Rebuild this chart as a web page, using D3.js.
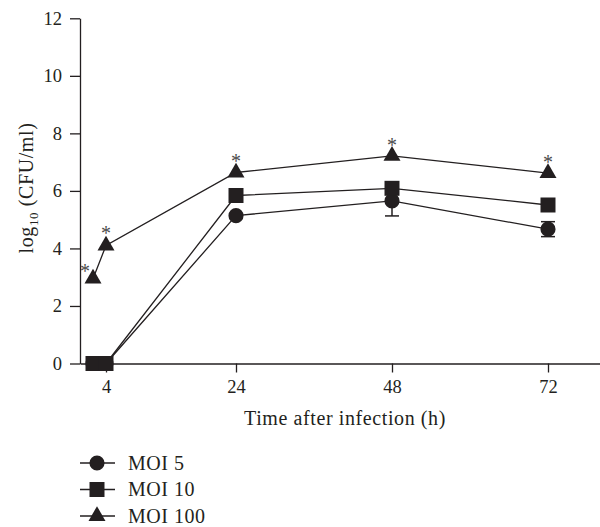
<!DOCTYPE html>
<html>
<head>
<meta charset="utf-8">
<script src="https://cdn.jsdelivr.net/npm/d3@7"></script>
<style>
  body { margin: 0; background: #fff; }
  svg { font-family: "Liberation Serif", "DejaVu Serif", serif; }
</style>
</head>
<body>
<div id="chart"></div>
<script>
// data
const hours = [2, 4, 24, 48, 72];
const xTicks = [4, 24, 48, 72];
const yTicks = [0, 2, 4, 6, 8, 10, 12];
const seriesNames = ['MOI 5', 'MOI 10', 'MOI 100'];
const moi5 = [0, 0, 5.14, 5.65, 4.67];
const moi5Err = [0, 0, 0.05, 0.52, 0.26];
const moi10 = [0, 0, 5.84, 6.09, 5.51];
const moi10Err = [0, 0, 0.05, 0.1, 0.06];
const moi100 = [2.95, 4.1, 6.64, 7.22, 6.62];
const moi100Err = [0, 0, 0, 0, 0];
const moi100Star = [true, true, true, true, true];

var width = 600, height = 527;
var ink = '#231f20';

var svg = d3.select('#chart').append('svg')
  .attr('width', width)
  .attr('height', height);

var x = d3.scaleLinear().domain([0, 80]).range([80, 600]);
var y = d3.scaleLinear().domain([0, 12]).range([363.5, 18.3]);

// axes
var yAxis = svg.append('g')
  .attr('transform', 'translate(80,0)')
  .call(d3.axisLeft(y).tickValues(yTicks).tickSize(10).tickPadding(8).tickSizeOuter(0));
var xAxis = svg.append('g')
  .attr('transform', 'translate(0,' + y(0) + ')')
  .call(d3.axisBottom(x).tickValues(xTicks).tickSize(9).tickPadding(7).tickSizeOuter(0));

[xAxis, yAxis].forEach(function(g) {
  g.selectAll('path, line').attr('stroke', ink).attr('stroke-width', 1.3);
  g.selectAll('text').attr('fill', ink).style('font-size', '18.5px').style('font-family', 'Liberation Serif');
});

// axis titles
svg.append('text')
  .attr('x', 345).attr('y', 425)
  .attr('text-anchor', 'middle')
  .attr('fill', ink)
  .style('font-size', '20px')
  .style('letter-spacing', '0.6px')
  .text('Time after infection (h)');

var yl = svg.append('text')
  .attr('transform', 'translate(33,188) rotate(-90)')
  .attr('text-anchor', 'middle')
  .attr('fill', ink)
  .style('font-size', '20px')
  .style('letter-spacing', '0.6px');
yl.append('tspan').text('log');
yl.append('tspan').attr('dy', 5).style('font-size', '13px').text('10');
yl.append('tspan').attr('dy', -5).text(' (CFU/ml)');

var series = [
  { name: seriesNames[0], vals: moi5, err: moi5Err, sym: d3.symbolCircle, size: 180 },
  { name: seriesNames[1], vals: moi10, err: moi10Err, sym: d3.symbolSquare, size: 225 },
  { name: seriesNames[2], vals: moi100, err: moi100Err, sym: d3.symbolTriangle, size: 125 }
];

var line = d3.line()
  .x(function(d) { return x(d.h); })
  .y(function(d) { return y(d.v); });

function pts(s) {
  return hours.map(function(h, i) { return { h: h, v: s.vals[i], e: s.err[i] }; });
}

// lines
series.forEach(function(s) {
  svg.append('path')
    .datum(pts(s))
    .attr('d', line)
    .attr('fill', 'none')
    .attr('stroke', ink)
    .attr('stroke-width', 1.3);
});

// error bars
series.forEach(function(s) {
  var g = svg.append('g').attr('stroke', ink).attr('stroke-width', 1.5);
  pts(s).filter(function(d) { return d.e > 0; }).forEach(function(d) {
    g.append('line').attr('x1', x(d.h)).attr('x2', x(d.h))
      .attr('y1', y(d.v - d.e)).attr('y2', y(d.v + d.e));
    g.append('line').attr('x1', x(d.h) - 7).attr('x2', x(d.h) + 7)
      .attr('y1', y(d.v - d.e)).attr('y2', y(d.v - d.e));
    g.append('line').attr('x1', x(d.h) - 7).attr('x2', x(d.h) + 7)
      .attr('y1', y(d.v + d.e)).attr('y2', y(d.v + d.e));
  });
});

// markers
series.forEach(function(s) {
  svg.selectAll(null)
    .data(pts(s))
    .enter()
    .append('path')
    .attr('d', d3.symbol().type(s.sym).size(s.size))
    .attr('transform', function(d) { return 'translate(' + x(d.h) + ',' + y(d.v) + ')'; })
    .attr('fill', ink);
});

// significance asterisks on MOI 100
svg.selectAll(null)
  .data(hours.map(function(h, i) { return { h: h, v: moi100[i], s: moi100Star[i], i: i }; }).filter(function(d) { return d.s; }))
  .enter()
  .append('text')
  .attr('x', function(d) { return x(d.h) + (d.i === 0 ? -8 : 0); })
  .attr('y', function(d) { return y(d.v) + (d.i === 0 ? -1 : (d.i === 1 ? -6 : -4)); })
  .attr('text-anchor', 'middle')
  .attr('fill', '#4a4a4a')
  .style('font-size', '20px')
  .text('*');

// legend
var legend = svg.append('g');
series.forEach(function(s, i) {
  var ly = 463 + i * 26.5;
  legend.append('line').attr('x1', 80).attr('x2', 115).attr('y1', ly).attr('y2', ly)
    .attr('stroke', ink).attr('stroke-width', 1.3);
  legend.append('path')
    .attr('d', d3.symbol().type(s.sym).size(s.size))
    .attr('transform', 'translate(97,' + ly + ')')
    .attr('fill', ink);
  legend.append('text')
    .attr('x', 128).attr('y', ly + 6.5)
    .attr('fill', ink)
    .style('font-size', '20px')
    .style('letter-spacing', '0.5px')
    .text(s.name);
});
</script>
</body>
</html>
